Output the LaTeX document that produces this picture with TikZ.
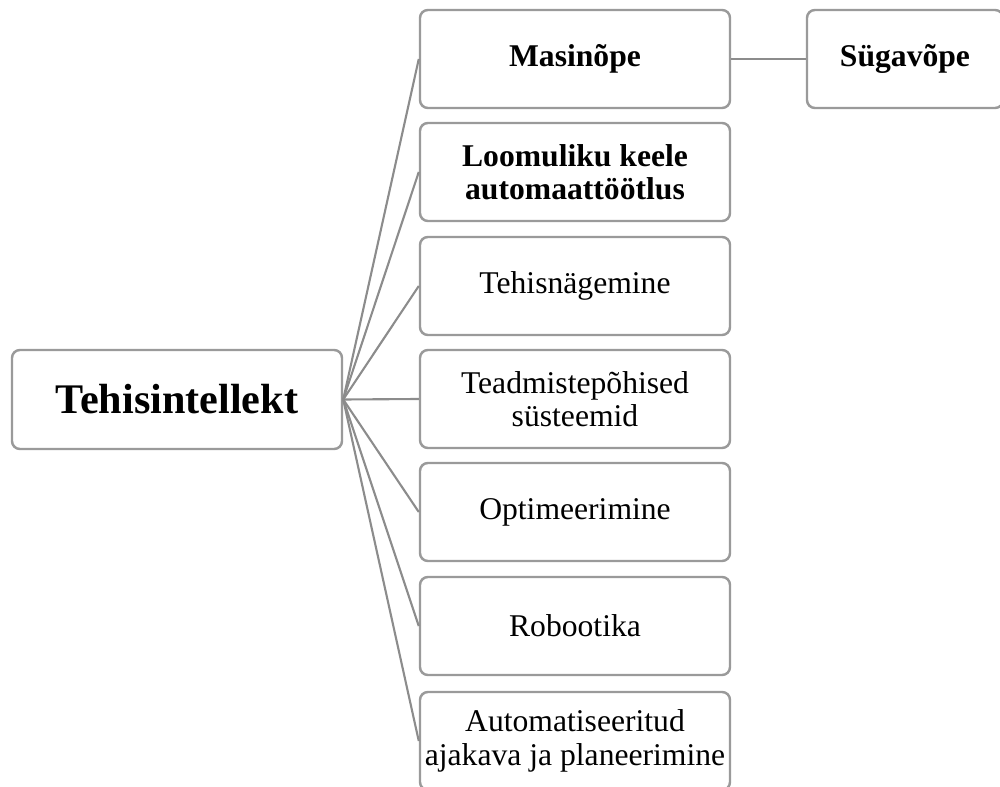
\documentclass[tikz,border=0pt]{standalone}
\usepackage{fontspec}
\setmainfont{Liberation Serif}
\definecolor{box-gray}{HTML}{9A9A9A}
\definecolor{line-gray}{HTML}{8C8C8C}

\tikzset{
  topicbox/.style={draw=box-gray, line width=1.4pt, rounded corners=4.5pt,
                   fill=white, align=center, inner sep=2pt,
                   minimum width=6.2cm, minimum height=1.96cm,
                   font=\fontsize{18}{19}\selectfont},
  branch/.style={draw=line-gray, line width=1.2pt}
}

\begin{document}
\begin{tikzpicture}
    \useasboundingbox (0,0) rectangle (20,-15.74);
    \clip (0,0) rectangle (20,-15.74);
    \node[topicbox, minimum width=6.6cm, minimum height=1.98cm,
          font=\fontsize{24}{28}\selectfont\bfseries] (ai) at (3.54,-7.99) {Tehisintellekt};
    \node[topicbox, font=\fontsize{18}{19}\selectfont\bfseries] (ml) at (11.5,-1.18) {Masinõpe};
    \node[topicbox, font=\fontsize{18}{19}\selectfont\bfseries] (nlp) at (11.5,-3.44)
          {Loomuliku keele\\ automaattöötlus};
    \node[topicbox] (cv) at (11.5,-5.72) {Tehisnägemine};
    \node[topicbox] (kbs) at (11.5,-7.98) {Teadmistepõhised\\ süsteemid};
    \node[topicbox] (opt) at (11.5,-10.24) {Optimeerimine};
    \node[topicbox] (rob) at (11.5,-12.52) {Robootika};
    \node[topicbox] (plan) at (11.5,-14.82) {Automatiseeritud\\ ajakava ja planeerimine};
    \node[topicbox, minimum width=3.92cm, font=\fontsize{18}{19}\selectfont\bfseries]
          (dl) at (18.1,-1.18) {Sügavõpe};
    % branches
    \foreach \leaf in {ml, nlp, cv, kbs, opt, rob, plan}
      \draw[branch] (ai.east) -- (\leaf.west);
    \draw[branch] (ml.east) -- (dl.west);
  \end{tikzpicture}
\end{document}
